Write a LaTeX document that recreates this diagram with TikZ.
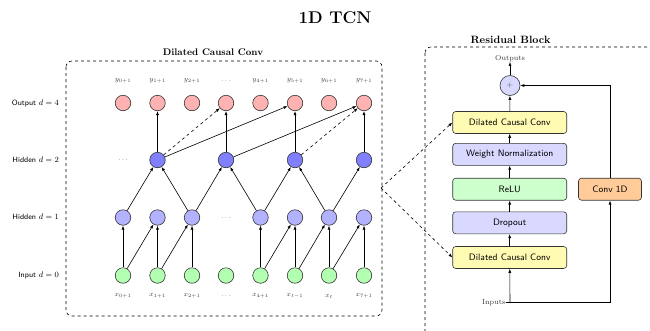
\documentclass[tikz,border=0pt]{standalone}
\usetikzlibrary{arrows.meta}
\begin{document}
\begin{tikzpicture}[x=1pt,y=-1pt,
  neuron/.style={circle,draw=black!80,line width=0.6pt,minimum size=15.5pt,inner sep=0pt},
  outn/.style={neuron,fill=red!30},
  hidA/.style={neuron,fill=blue!30},
  hidB/.style={neuron,fill=blue!50},
  inn/.style={neuron,fill=green!30},
  arr/.style={line width=0.6pt,-{Latex[length=4pt,width=3pt]}},
  darr/.style={arr,dashed},
  rowlab/.style={font=\sffamily\fontsize{7.6}{9}\selectfont,anchor=east,inner sep=0pt},
  seqlab/.style={font=\fontsize{7.2}{8}\selectfont,text=black!75,inner sep=0pt},
  blk/.style={draw=black!80,line width=0.6pt,rounded corners=3pt,minimum width=114pt,minimum height=22pt,font=\sffamily\fontsize{9.3}{10}\selectfont,inner sep=0pt},
  frame/.style={dashed,line width=0.6pt,rounded corners=6pt},
  ttl/.style={font=\bfseries\fontsize{9.6}{11}\selectfont,inner sep=0pt}
]
\useasboundingbox (0,0) rectangle (650,330);
\clip (0,0) rectangle (650,330);

\node[font=\bfseries\fontsize{17}{19}\selectfont,inner sep=0pt] (title) at (335,18) {1D TCN};

% left frame
\draw[frame] (66,61) rectangle (382,316);
\node[ttl] (dcctitle) at (213,52) {Dilated Causal Conv};

% row labels
\node[rowlab] (l4) at (59,103) {Output $d=4$};
\node[rowlab] (l2) at (59,160) {Hidden $d=2$};
\node[rowlab] (l1) at (59,217) {Hidden $d=1$};
\node[rowlab] (l0) at (59,275) {Input $d=0$};

% columns
\def\cA{123}\def\cB{157.5}\def\cC{192}\def\cD{226}\def\cE{260.5}\def\cF{295}\def\cG{329}\def\cH{364}

% output row
\node[outn] (o1) at (\cA,103) {};
\node[outn] (o2) at (\cB,103) {};
\node[outn] (o3) at (\cC,103) {};
\node[outn] (o4) at (\cD,103) {};
\node[outn] (o5) at (\cE,103) {};
\node[outn] (o6) at (\cF,103) {};
\node[outn] (o7) at (\cG,103) {};
\node[outn] (o8) at (\cH,103) {};

\node[seqlab] (y1) at (\cA,81) {$y_{0+1}$};
\node[seqlab] (y2) at (\cB,81) {$y_{1+1}$};
\node[seqlab] (y3) at (\cC,81) {$y_{2+1}$};
\node[seqlab] (y4) at (\cD,81) {$\cdots$};
\node[seqlab] (y5) at (\cE,81) {$y_{4+1}$};
\node[seqlab] (y6) at (\cF,81) {$y_{5+1}$};
\node[seqlab] (y7) at (\cG,81) {$y_{6+1}$};
\node[seqlab] (y8) at (\cH,81) {$y_{7+1}$};

% hidden 2
\node[seqlab] (h2dots) at (\cA,160) {$\cdots$};
\node[hidB] (b2) at (\cB,160) {};
\node[hidB] (b4) at (\cD,160) {};
\node[hidB] (b6) at (\cF,160) {};
\node[hidB] (b8) at (\cH,160) {};

% hidden 1
\node[hidA] (a1) at (\cA,217.5) {};
\node[hidA] (a2) at (\cB,217.5) {};
\node[hidA] (a3) at (\cC,217.5) {};
\node[seqlab] (h1dots) at (\cD,217.5) {$\cdots$};
\node[hidA] (a5) at (\cE,217.5) {};
\node[hidA] (a6) at (\cF,217.5) {};
\node[hidA] (a7) at (\cG,217.5) {};
\node[hidA] (a8) at (\cH,217.5) {};

% input
\node[inn] (i1) at (\cA,275.5) {};
\node[inn] (i2) at (\cB,275.5) {};
\node[inn] (i3) at (\cC,275.5) {};
\node[inn] (i4) at (\cD,275.5) {};
\node[inn] (i5) at (\cE,275.5) {};
\node[inn] (i6) at (\cF,275.5) {};
\node[inn] (i7) at (\cG,275.5) {};
\node[inn] (i8) at (\cH,275.5) {};

\node[seqlab] (x1) at (\cA,296) {$x_{0+1}$};
\node[seqlab] (x2) at (\cB,296) {$x_{1+1}$};
\node[seqlab] (x3) at (\cC,296) {$x_{2+1}$};
\node[seqlab] (x4) at (\cD,296) {$\cdots$};
\node[seqlab] (x5) at (\cE,296) {$x_{4+1}$};
\node[seqlab] (x6) at (\cF,296) {$x_{t-1}$};
\node[seqlab] (x7) at (\cG,296) {$x_{t}$};
\node[seqlab] (x8) at (\cH,296) {$x_{7+1}$};

% input -> hidden1
\foreach \k in {1,2,3,5,6,7,8} \draw[arr] (i\k) -- (a\k);
\draw[arr] (i1) -- (a2);
\draw[arr] (i2) -- (a3);
\draw[arr] (i5) -- (a6);
\draw[arr] (i6) -- (a7);
\draw[arr] (i7) -- (a8);

% hidden1 -> hidden2
\draw[arr] (a1) -- (b2);
\draw[arr] (a3) -- (b2);
\draw[arr] (a3) -- (b4);
\draw[arr] (a5) -- (b4);
\draw[arr] (a5) -- (b6);
\draw[arr] (a7) -- (b6);
\draw[arr] (a7) -- (b8);

% hidden2 -> output
\draw[arr] (b2) -- (o2);
\draw[arr] (b4) -- (o4);
\draw[arr] (b6) -- (o6);
\draw[arr] (b8) -- (o8);
\draw[darr] (b2) -- (o4);
\draw[arr] (b2) -- (o6);
\draw[arr] (b4) -- (o8);
\draw[darr] (b6) -- (o8);

% residual block
\draw[frame] (425,47) rectangle (700,400);
\node[ttl,font=\bfseries\fontsize{10.6}{12}\selectfont] (rbtitle) at (510.5,40) {Residual Block};

\node[blk,fill=yellow!30] (dccT) at (509.7,122.5) {Dilated Causal Conv};
\node[blk,fill=blue!15] (wn) at (509.7,154.3) {Weight Normalization};
\node[blk,fill=green!20] (relu) at (509.7,189.2) {ReLU};
\node[blk,fill=blue!15] (drop) at (509.7,222.8) {Dropout};
\node[blk,fill=yellow!30] (dccB) at (509.7,257.5) {Dilated Causal Conv};
\node[draw=black!80,line width=0.6pt,rounded corners=3pt,fill=orange!40,minimum width=63pt,minimum height=22pt,inner sep=0pt,font=\sffamily\fontsize{9.3}{10}\selectfont] (conv) at (610,189.2) {Conv 1D};
\node[circle,draw=black!80,line width=0.6pt,fill=blue!15,minimum size=20pt,inner sep=0pt,font=\fontsize{8}{9}\selectfont\color{black!70}] (plus) at (510,85.5) {$+$};
\node[seqlab,text=black!80] (outs) at (510,58.5) {Outputs};
\node[seqlab,text=black!80,anchor=east] (ins) at (505.5,302.5) {Inputs};
\coordinate (inc) at (510,302.5);

\draw[line width=0.6pt] (ins.east) -- (inc);
\draw[arr] (inc) -- (dccB);
\draw[arr] (inc) -| (conv);
\draw[arr] (dccB) -- (drop);
\draw[arr] (drop) -- (relu);
\draw[arr] (relu) -- (wn);
\draw[arr] (wn) -- (dccT);
\draw[arr] (dccT) -- (plus);
\draw[arr] (plus) -- (outs);
\draw[arr] (conv) |- (plus);

% zoom connectors
\coordinate (zp) at (381,188);
\draw[darr] (zp) -- (dccT.west);
\draw[darr] (zp) -- (dccB.west);
\end{tikzpicture}
\end{document}
